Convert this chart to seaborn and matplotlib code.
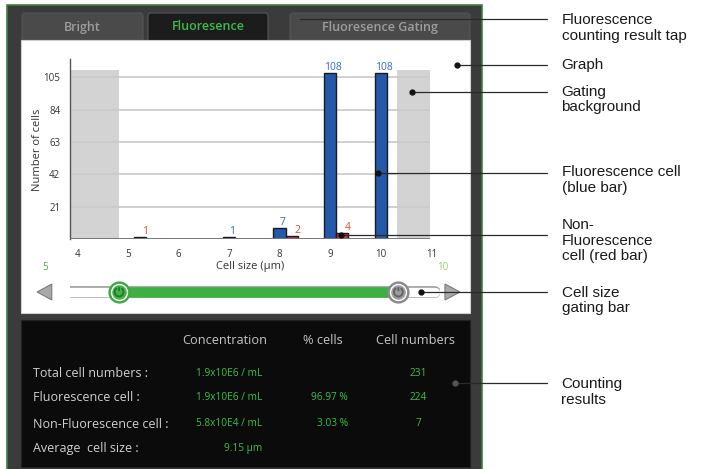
import numpy as np
import pandas as pd
import matplotlib
matplotlib.use("Agg")
import matplotlib.pyplot as plt
import seaborn as sns
from matplotlib.patches import Rectangle, FancyBboxPatch, Polygon
from matplotlib.path import Path

# ---------------- data ----------------
sizes = [5, 6, 7, 8, 9, 10]
fluor_counts = [0, 0, 1, 7, 108, 108]        # blue bars
nonfluor_counts = [1, 0, 0, 2, 4, 0]         # red bars
size_ticks = [4, 5, 6, 7, 8, 9, 10, 11]
count_ticks = [21, 42, 63, 84, 105]
gate_low_label = "5"
gate_high_label = "10"
gate_range = [4.83, 10.35]                   # slider knob positions (µm)
gate_bg_left = [3.86, 4.83]
gate_bg_right = [10.33, 10.97]
gate_bg_top = 110

tabs = ["Bright", "Fluoresence", "Fluoresence Gating"]
result_headers = ["Concentration", "% cells", "Cell numbers"]
result_rows = ["Total cell numbers :", "Fluorescence cell :",
               "Non-Fluorescence cell :", "Average  cell size :"]
result_conc = ["1.9x10E6 / mL", "1.9x10E6 / mL", "5.8x10E4 / mL", "9.15 µm"]
result_pct = ["", "96.97 %", "3.03 %", ""]
result_num = ["231", "224", "7", ""]

callout_texts = [
    ["Fluorescence", "counting result tap"],
    ["Graph"],
    ["Gating", "background"],
    ["Fluorescence cell", "(blue bar)"],
    ["Non-", "Fluorescence", "cell (red bar)"],
    ["Cell size", "gating bar"],
    ["Counting", "results"],
]

# ---------------- style ----------------
sns.set_style("white")
plt.rcParams['font.family'] = ['Open Sans', 'DejaVu Sans']

W, H = 704, 469
fig = plt.figure(figsize=(W / 100, H / 100), dpi=100)
fig.patch.set_facecolor("white")

# background / UI layer in pixel coordinates
bg = fig.add_axes([0, 0, 1, 1], zorder=0)
bg.set_xlim(0, W)
bg.set_ylim(H, 0)
bg.axis("off")

# device frame
bg.add_patch(Rectangle((7, 5), 475, 475, facecolor="#3b3b3b",
                       edgecolor="#3f7f3f", lw=1.2))
# tabs
tab_geo = [(22, 121, "#4a4a4a", "#9c9c9c"),
           (148, 120, "#1c1c1c", "#3dba4a"),
           (290, 180, "#4a4a4a", "#9c9c9c")]
for (x0, w, fc, tc), label in zip(tab_geo, tabs):
    bg.add_patch(FancyBboxPatch((x0, 13), w, 30, boxstyle="round,pad=0,rounding_size=3",
                                facecolor=fc, edgecolor="#555555", lw=0.8))
    bg.text(x0 + w / 2, 27, label, ha="center", va="center", fontsize=9,
            fontweight="semibold", color=tc)
# white graph panel
bg.add_patch(Rectangle((21, 40), 449, 273, facecolor="white",
                       edgecolor="#cfcfcf", lw=0.8))
# black results panel
bg.add_patch(Rectangle((21, 320), 449, 147, facecolor="#0b0b0b",
                       edgecolor="#222222", lw=0.8))

# results text
hdr_x = [225, 323, 416]
for x, t in zip(hdr_x, result_headers):
    bg.text(x, 341, t, ha="center", va="center", fontsize=9.2, color="#c4c4c4")
row_y = [373.5, 397.5, 424, 448.5]
green = "#3cc04a"
for y, lab, c, p, n in zip(row_y, result_rows, result_conc, result_pct, result_num):
    bg.text(33, y, lab, ha="left", va="center", fontsize=9.0, color="#d0d0d0")
    bg.text(262, y, c, ha="right", va="center", fontsize=7.3, color=green)
    if p:
        bg.text(348, y, p, ha="right", va="center", fontsize=7.3, color=green)
    if n:
        bg.text(418, y, n, ha="center", va="center", fontsize=7.3, color=green)

# gate value labels
bg.text(45, 267, gate_low_label, ha="center", va="center", fontsize=7, color="#3cb043")
bg.text(443, 267, gate_high_label, ha="center", va="center", fontsize=7, color="#9ad060")

# ---------------- chart ----------------
ax = fig.add_axes([70 / W, 1 - 239 / H, 370 / W, 180 / H], zorder=2)
ax.patch.set_alpha(0)

bar_w = 0.24
df_f = pd.DataFrame({"size": sizes, "count": fluor_counts})
df_f = df_f[df_f["count"] > 0]
df_n = pd.DataFrame({"size": sizes, "count": nonfluor_counts})
df_n = df_n[df_n["count"] > 0]
df_n["pos"] = df_n["size"] + bar_w

sns.barplot(data=df_f, x="size", y="count", native_scale=True, width=bar_w,
            color="#2458a8", saturation=1, edgecolor="#1a1a22", linewidth=1,
            errorbar=None, ax=ax, zorder=3)
sns.barplot(data=df_n, x="pos", y="count", native_scale=True, width=bar_w,
            color="#d8302a", saturation=1, edgecolor="#1a1a22", linewidth=1,
            errorbar=None, ax=ax, zorder=3)

for x, v in zip(df_f["size"], df_f["count"]):
    ax.annotate(str(v), (x, v), xytext=(2, 0), textcoords="offset points",
                ha="center", va="bottom", fontsize=7.5, color="#3467c4")
for x, v in zip(df_n["pos"], df_n["count"]):
    ax.annotate(str(v), (x, v), xytext=(4, 0), textcoords="offset points",
                ha="center", va="bottom", fontsize=7.5, color="#e8452c")

ax.axvspan(*gate_bg_left, ymax=gate_bg_top / 117, color="#d3d3d3", lw=0, zorder=0)
ax.axvspan(*gate_bg_right, ymax=gate_bg_top / 117, color="#d3d3d3", lw=0, zorder=0)
ax.hlines(count_ticks, gate_bg_left[0], gate_bg_right[1], color="#cbcbcb", lw=1.3, zorder=1)
ax.hlines(0, gate_bg_left[0], gate_bg_right[1], color="#777777", lw=1.4, zorder=4)

ax.set_xlim(3.86, 3.86 + 370 / 50.6)
ax.set_ylim(0, 117)
ax.set_xticks(size_ticks)
ax.set_xticklabels([str(t) for t in size_ticks])
ax.set_yticks(count_ticks)
ax.tick_params(length=0, labelsize=7, colors="#333333", pad=7)
for s in ["top", "right", "bottom"]:
    ax.spines[s].set_visible(False)
ax.spines["left"].set_color("#555555")
ax.spines["left"].set_linewidth(1)

ax.set_xlabel("Cell size (µm)", fontsize=8, color="#333333")
ax.xaxis.set_label_coords((250 - 70) / 370, (239 - 267) / 180)
ax.xaxis.label.set_va("center")
ax.set_ylabel("Number of cells", fontsize=8, color="#333333")
ax.yaxis.set_label_coords((38 - 70) / 370, (239 - 150) / 180)
ax.yaxis.label.set_va("center")

# ---------------- slider ----------------
sax = fig.add_axes([70 / W, 1 - 302 / H, 370 / W, 20 / H], zorder=3, sharex=ax)
sax.set_ylim(-1, 1)
sax.axis("off")
px = 1 / 50.6  # data units per pixel along x
sax.plot([3.56 + 5 * px, 11.17 - 5 * px], [0, 0], lw=8.4, color="#9a9a9a",
         solid_capstyle="round")
sax.plot([3.56 + 5 * px, 11.17 - 5 * px], [0, 0], lw=6.8, color="white",
         solid_capstyle="round")
sax.plot(gate_range, [0, 0], lw=7.6, color="#3cb043", solid_capstyle="butt")
sax.add_patch(Polygon([(3.21, 0), (3.50, 0.8), (3.50, -0.8)], closed=True,
                      facecolor="#a9a9a9", edgecolor="#7a7a7a", lw=0.8, clip_on=False))
sax.add_patch(Polygon([(11.27, 0.8), (11.27, -0.8), (11.567, 0)], closed=True,
                      facecolor="#a9a9a9", edgecolor="#7a7a7a", lw=0.8, clip_on=False))

arc = Path.arc(120, 420)
stem = Path([(0, 0.2), (0, 1.1)], [Path.MOVETO, Path.LINETO])
power = Path.make_compound_path(arc, stem)
knob_cols = [("#3da845", "#45b34c", "#1f7a2a"), ("#8a8a8a", "#9c9c9c", "#606060")]
for gx, (outer, inner, sym) in zip(gate_range, knob_cols):
    sax.scatter([gx], [0], s=16 ** 2, color=outer, zorder=5, clip_on=False, lw=0)
    sax.scatter([gx], [0], s=12.5 ** 2, color="white", zorder=6, clip_on=False, lw=0)
    sax.scatter([gx], [0], s=10.5 ** 2, color=inner, zorder=7, clip_on=False, lw=0)
    sax.scatter([gx], [0], s=7 ** 2, marker=power, facecolors="none",
                edgecolors=sym, linewidths=1.3, zorder=8, clip_on=False)

# ---------------- callouts ----------------
top = fig.add_axes([0, 0, 1, 1], zorder=10)
top.patch.set_alpha(0)
top.set_xlim(0, W)
top.set_ylim(H, 0)
top.axis("off")

callout_lines = [(19, 300, False), (65, 456.7, True), (91.7, 412.3, True),
                 (173.5, 377.7, True), (235.5, 340.7, True), (291.7, 420.7, True),
                 (383.3, 455, True)]
callout_first_y = [20, 65, 91.7, 172.5, 225, 292.7, 384]
for (ly, x0, dot), lines, fy in zip(callout_lines, callout_texts, callout_first_y):
    top.plot([x0, 547], [ly, ly], color="#2a2a2a", lw=0.9)
    if dot:
        top.plot([x0], [ly], "o", ms=3.5, color="#111111" if x0 != 455 else "#555555")
    for i, t in enumerate(lines):
        top.text(561.5, fy + i * 15.7, t, ha="left", va="center", fontsize=11,
                 color="#1a1a1a", family=["Liberation Sans", "DejaVu Sans"])

fig.savefig("out.png", dpi=100)
